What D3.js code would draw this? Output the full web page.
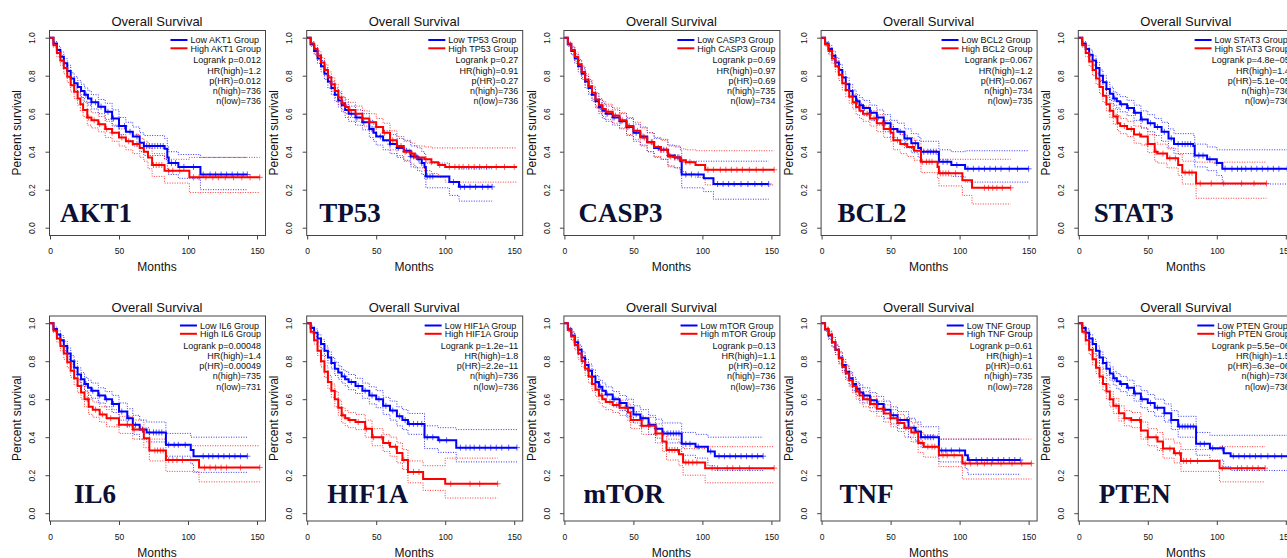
<!DOCTYPE html>
<meta charset="utf-8">
<head>
<style>
  body { margin: 0; background: #fff; }
  text { font-family: "Liberation Sans", Arial, sans-serif; fill: #111; }
</style>
</head>

<script src="https://cdn.jsdelivr.net/npm/d3@7"></script>

<body>
  <div id="my_dataviz"></div>
</body>

<script>

  // ---- data: [months, survival, lower CI, upper CI] ----
  var genes = ["AKT1", "TP53", "CASP3", "BCL2", "STAT3", "IL6", "HIF1A", "mTOR", "TNF", "PTEN"];

  var akt1Low = [[0,1,1,1],[2.5,.97,.96,.98],[5,.935,.915,.955],[7.5,.90,.875,.925],[10,.865,.84,.89],[12.5,.825,.795,.855],[15,.785,.755,.815],[17.5,.76,.73,.795],[20,.74,.71,.775],[22.5,.72,.685,.755],[25,.70,.665,.735],[27.5,.68,.645,.72],[30,.66,.625,.70],[35,.637,.60,.675],[40,.61,.57,.655],[45,.575,.535,.62],[50,.535,.49,.58],[55,.505,.46,.555],[60,.48,.43,.53],[65,.447,.40,.50],[68,.43,.38,.485],[83,.415,.36,.47],[85,.37,.31,.43],[86,.34,.28,.40],[93,.32,.26,.385],[109,.28,.20,.37],[143,.28,.20,.37]];
  var akt1High = [[0,1,1,1],[2.5,.96,.95,.97],[5,.92,.90,.94],[7.5,.88,.855,.905],[10,.84,.81,.87],[12.5,.795,.765,.825],[15,.75,.715,.785],[17.5,.715,.68,.75],[20,.68,.645,.715],[22,.65,.615,.69],[24,.62,.585,.66],[27,.58,.54,.62],[30,.565,.525,.605],[35,.545,.505,.585],[40,.52,.475,.56],[45,.50,.455,.54],[50,.475,.43,.52],[55,.455,.41,.505],[60,.44,.39,.49],[65,.42,.37,.47],[68,.40,.35,.455],[71,.37,.31,.42],[74,.33,.27,.39],[83,.30,.235,.36],[101,.265,.185,.37],[152,.265,.185,.37]];

  var tp53Low = [[0,1,1,1],[2.5,.965,.955,.975],[5,.93,.91,.95],[7.5,.89,.865,.915],[10,.85,.82,.88],[12.5,.81,.78,.84],[15,.77,.735,.80],[17.5,.735,.70,.77],[20,.70,.665,.735],[22.5,.67,.635,.71],[25,.645,.61,.685],[27.5,.62,.58,.66],[30,.60,.56,.64],[35,.58,.54,.62],[40,.555,.515,.60],[45,.52,.475,.565],[48,.50,.455,.545],[50,.48,.435,.53],[55,.46,.41,.51],[60,.44,.39,.49],[65,.42,.37,.47],[70,.405,.355,.46],[75,.375,.32,.43],[80,.36,.30,.42],[83,.34,.28,.40],[85,.32,.26,.385],[86,.27,.21,.34],[103,.24,.17,.32],[110,.215,.14,.31],[134,.215,.14,.31]];
  var tp53High = [[0,1,1,1],[2.5,.97,.96,.98],[5,.94,.92,.96],[7.5,.905,.88,.93],[10,.87,.845,.895],[12.5,.83,.80,.86],[15,.79,.76,.82],[17.5,.755,.72,.79],[20,.72,.685,.755],[22.5,.685,.65,.72],[25,.655,.62,.69],[27.5,.635,.60,.675],[30,.62,.58,.66],[35,.60,.56,.64],[40,.575,.535,.615],[45,.555,.51,.60],[50,.53,.485,.575],[55,.50,.455,.55],[60,.46,.41,.51],[65,.43,.38,.48],[70,.40,.35,.455],[75,.39,.335,.445],[78,.37,.315,.43],[85,.36,.30,.425],[90,.345,.285,.42],[95,.33,.265,.42],[100,.32,.24,.42],[152,.32,.24,.42]];

  var casp3Low = [[0,1,1,1],[2.5,.965,.955,.975],[5,.93,.91,.95],[7.5,.89,.865,.915],[10,.85,.82,.88],[12.5,.81,.78,.84],[15,.77,.735,.80],[17.5,.735,.70,.77],[20,.70,.665,.735],[22.5,.665,.63,.705],[25,.635,.60,.675],[27.5,.615,.575,.655],[30,.60,.56,.64],[35,.58,.54,.62],[40,.56,.52,.60],[45,.53,.485,.575],[50,.50,.455,.545],[55,.48,.435,.53],[60,.45,.40,.50],[65,.42,.37,.47],[70,.41,.36,.465],[75,.38,.325,.435],[80,.37,.315,.43],[84,.35,.29,.41],[85,.28,.21,.35],[101,.26,.19,.35],[108,.23,.15,.35],[148,.23,.15,.35]];
  var casp3High = [[0,1,1,1],[2.5,.968,.958,.978],[5,.935,.915,.955],[7.5,.90,.875,.925],[10,.86,.835,.885],[12.5,.82,.79,.85],[15,.78,.75,.81],[17.5,.745,.71,.78],[20,.71,.675,.745],[22.5,.675,.64,.71],[25,.645,.61,.68],[27.5,.625,.585,.665],[30,.61,.57,.65],[35,.59,.55,.63],[40,.565,.525,.605],[45,.535,.49,.58],[50,.51,.465,.555],[55,.475,.43,.525],[60,.45,.40,.50],[65,.425,.375,.475],[70,.41,.36,.46],[75,.375,.32,.43],[80,.37,.315,.425],[84,.355,.295,.415],[88,.345,.285,.41],[95,.33,.265,.405],[102,.305,.225,.405],[152,.305,.225,.405]];

  var bcl2Low = [[0,1,1,1],[2.5,.97,.96,.98],[5,.94,.92,.96],[7.5,.905,.88,.93],[10,.87,.845,.895],[12.5,.83,.80,.86],[15,.79,.76,.82],[17.5,.755,.72,.79],[20,.72,.685,.755],[22.5,.69,.655,.725],[25,.665,.63,.70],[27.5,.645,.61,.685],[30,.63,.59,.67],[35,.605,.565,.645],[40,.58,.54,.62],[45,.55,.505,.595],[50,.52,.475,.565],[55,.505,.46,.55],[60,.47,.42,.52],[65,.445,.395,.495],[70,.42,.37,.475],[72,.40,.345,.455],[85,.347,.29,.41],[94,.33,.27,.40],[104,.31,.24,.405],[150,.31,.24,.405]];
  var bcl2High = [[0,1,1,1],[2.5,.965,.955,.975],[5,.93,.91,.95],[7.5,.89,.865,.915],[10,.85,.82,.88],[12.5,.805,.775,.835],[15,.76,.725,.795],[17.5,.725,.69,.76],[20,.69,.655,.725],[22.5,.66,.625,.70],[25,.635,.595,.675],[27.5,.615,.575,.655],[30,.60,.56,.64],[35,.575,.535,.615],[40,.55,.505,.595],[45,.52,.475,.565],[50,.50,.455,.545],[52,.46,.41,.51],[57,.44,.39,.49],[62,.425,.375,.475],[67,.405,.355,.46],[72,.347,.29,.405],[84,.32,.26,.385],[85,.286,.22,.36],[102,.25,.17,.36],[109,.21,.125,.36],[137,.21,.125,.36]];

  var stat3Low = [[0,1,1,1],[2.5,.97,.96,.98],[5,.94,.92,.96],[7.5,.91,.885,.935],[10,.88,.855,.905],[12.5,.84,.81,.87],[15,.80,.77,.83],[17.5,.765,.73,.80],[20,.73,.695,.765],[22.5,.705,.67,.74],[25,.68,.645,.715],[27.5,.665,.63,.70],[30,.65,.61,.69],[35,.63,.59,.67],[40,.605,.565,.645],[45,.57,.525,.615],[50,.55,.505,.595],[55,.53,.485,.575],[60,.505,.455,.555],[65,.47,.42,.52],[69,.44,.39,.495],[83,.43,.375,.485],[84,.38,.32,.44],[93,.36,.30,.425],[100,.34,.275,.41],[104,.31,.23,.41],[151,.31,.23,.41]];
  var stat3High = [[0,1,1,1],[2.5,.96,.95,.97],[5,.92,.90,.94],[7.5,.875,.85,.90],[10,.83,.80,.86],[12.5,.785,.755,.815],[15,.74,.705,.775],[17.5,.695,.66,.73],[20,.65,.615,.685],[22.5,.615,.58,.655],[25,.585,.545,.625],[28,.55,.51,.59],[30,.535,.495,.575],[35,.52,.48,.56],[40,.49,.445,.535],[45,.48,.435,.525],[50,.44,.395,.49],[55,.40,.35,.45],[57,.39,.34,.44],[64,.365,.315,.415],[72,.33,.275,.385],[75,.29,.23,.35],[85,.233,.155,.345],[136,.233,.155,.345]];

  var il6Low = [[0,1,1,1],[2.5,.97,.96,.98],[5,.94,.92,.96],[7.5,.91,.885,.935],[10,.88,.855,.905],[12.5,.84,.81,.87],[15,.80,.77,.83],[17.5,.765,.73,.80],[20,.73,.695,.765],[22.5,.705,.67,.74],[25,.68,.645,.715],[27.5,.66,.62,.70],[30,.645,.605,.685],[35,.62,.58,.66],[40,.60,.56,.64],[45,.575,.53,.62],[50,.535,.49,.58],[56,.50,.455,.55],[60,.465,.415,.515],[65,.44,.39,.49],[70,.425,.375,.48],[83,.425,.37,.48],[84,.36,.30,.42],[102,.333,.26,.40],[104,.30,.215,.40],[143,.30,.215,.40]];
  var il6High = [[0,1,1,1],[2.5,.96,.95,.97],[5,.92,.90,.94],[7.5,.88,.855,.905],[10,.84,.81,.87],[12.5,.795,.765,.825],[15,.75,.715,.785],[17.5,.71,.675,.745],[20,.67,.635,.705],[22.5,.635,.60,.675],[25,.60,.56,.64],[28,.56,.52,.60],[31,.545,.505,.585],[36,.52,.48,.56],[41,.50,.455,.545],[50,.465,.42,.51],[60,.44,.39,.49],[68,.395,.345,.45],[72,.33,.275,.39],[84,.28,.22,.355],[108,.24,.165,.355],[152,.24,.165,.355]];

  var hif1aLow = [[0,1,1,1],[2.5,.975,.965,.985],[5,.95,.93,.97],[7.5,.92,.90,.94],[10,.89,.865,.915],[12.5,.855,.83,.88],[15,.82,.79,.85],[17.5,.79,.76,.82],[20,.76,.725,.795],[22.5,.74,.705,.775],[25,.72,.685,.755],[27.5,.705,.67,.745],[30,.69,.65,.73],[35,.67,.63,.71],[40,.645,.605,.685],[45,.62,.575,.665],[50,.60,.555,.645],[55,.565,.52,.61],[60,.54,.49,.59],[65,.51,.46,.56],[69,.49,.44,.545],[73,.47,.415,.525],[85,.40,.34,.46],[95,.384,.32,.45],[108,.345,.27,.44],[152,.345,.27,.44]];
  var hif1aHigh = [[0,1,1,1],[2.5,.955,.945,.965],[5,.91,.89,.93],[7.5,.855,.83,.88],[10,.80,.77,.83],[12.5,.745,.715,.775],[15,.69,.655,.725],[17.5,.645,.61,.68],[20,.60,.56,.64],[22.5,.555,.515,.595],[25,.515,.475,.555],[27.5,.50,.46,.54],[30,.49,.45,.53],[35,.48,.44,.52],[42,.445,.40,.49],[47,.40,.355,.445],[55,.37,.325,.415],[60,.35,.30,.40],[65,.317,.265,.37],[69,.28,.23,.335],[73,.217,.16,.275],[84,.18,.12,.25],[100,.155,.08,.29],[138,.155,.08,.29]];

  var mtorLow = [[0,1,1,1],[2.5,.968,.958,.978],[5,.935,.915,.955],[7.5,.90,.875,.925],[10,.86,.835,.885],[12.5,.82,.79,.85],[15,.78,.75,.81],[17.5,.75,.715,.785],[20,.72,.685,.755],[22.5,.69,.655,.725],[25,.665,.63,.70],[27.5,.645,.605,.685],[30,.625,.585,.665],[35,.60,.56,.64],[40,.58,.54,.62],[45,.555,.51,.60],[50,.52,.475,.565],[55,.50,.455,.545],[61,.465,.415,.515],[66,.445,.395,.495],[71,.42,.37,.475],[85,.365,.305,.425],[95,.35,.29,.415],[104,.325,.25,.40],[109,.30,.225,.40],[144,.30,.225,.40]];
  var mtorHigh = [[0,1,1,1],[2.5,.965,.955,.975],[5,.93,.91,.95],[7.5,.885,.86,.91],[10,.84,.81,.87],[12.5,.80,.77,.83],[15,.76,.725,.795],[17.5,.72,.685,.755],[20,.68,.645,.715],[22.5,.65,.615,.685],[25,.62,.58,.66],[27.5,.60,.56,.64],[30,.585,.545,.625],[35,.57,.53,.61],[40,.555,.515,.595],[46,.53,.485,.575],[48,.49,.445,.535],[56,.46,.415,.505],[66,.42,.37,.47],[71,.377,.325,.43],[74,.333,.28,.39],[83,.31,.25,.37],[86,.267,.20,.34],[102,.237,.16,.35],[152,.237,.16,.35]];

  var tnfLow = [[0,1,1,1],[2.5,.968,.958,.978],[5,.935,.915,.955],[7.5,.90,.875,.925],[10,.86,.835,.885],[12.5,.82,.79,.85],[15,.78,.75,.81],[17.5,.745,.71,.78],[20,.71,.675,.745],[22.5,.68,.645,.715],[25,.655,.62,.69],[27.5,.635,.595,.675],[30,.62,.58,.66],[35,.595,.555,.635],[40,.575,.535,.615],[45,.545,.50,.59],[50,.515,.47,.56],[55,.49,.445,.535],[63,.45,.40,.50],[68,.43,.38,.48],[72,.40,.345,.455],[85,.33,.27,.39],[104,.305,.235,.39],[106,.28,.205,.39],[144,.28,.205,.39]];
  var tnfHigh = [[0,1,1,1],[2.5,.97,.96,.98],[5,.94,.92,.96],[7.5,.90,.875,.925],[10,.86,.835,.885],[12.5,.815,.785,.845],[15,.77,.74,.80],[17.5,.735,.70,.77],[20,.70,.665,.735],[22.5,.67,.635,.705],[25,.64,.60,.68],[27.5,.62,.58,.66],[30,.60,.56,.64],[35,.575,.535,.615],[40,.55,.51,.59],[45,.525,.48,.57],[50,.50,.455,.545],[55,.475,.43,.52],[60,.45,.40,.50],[65,.425,.375,.475],[70,.37,.32,.425],[74,.35,.295,.41],[85,.305,.245,.39],[102,.262,.18,.39],[152,.262,.18,.39]];

  var ptenLow = [[0,1,1,1],[2.5,.975,.965,.985],[5,.95,.93,.97],[7.5,.92,.90,.94],[10,.89,.865,.915],[12.5,.855,.83,.88],[15,.82,.79,.85],[17.5,.79,.76,.82],[20,.76,.725,.795],[22.5,.735,.70,.77],[25,.71,.675,.745],[27.5,.695,.655,.735],[30,.68,.64,.72],[35,.66,.62,.70],[40,.63,.59,.67],[45,.60,.555,.645],[50,.58,.535,.625],[55,.555,.51,.60],[62,.526,.48,.575],[67,.49,.44,.54],[72,.456,.40,.51],[85,.365,.305,.425],[95,.342,.28,.41],[105,.316,.245,.41],[110,.30,.225,.41],[152,.30,.225,.41]];
  var ptenHigh = [[0,1,1,1],[2.5,.955,.945,.965],[5,.91,.89,.93],[7.5,.86,.835,.885],[10,.81,.78,.84],[12.5,.765,.735,.795],[15,.72,.685,.755],[17.5,.68,.645,.715],[20,.64,.60,.68],[22.5,.60,.56,.64],[25,.565,.525,.605],[29,.526,.485,.565],[33,.50,.46,.54],[38,.49,.45,.53],[45,.435,.39,.48],[50,.40,.355,.445],[57,.377,.33,.425],[61,.34,.29,.39],[69,.316,.265,.37],[74,.275,.22,.335],[102,.237,.165,.35],[135,.237,.165,.35]];

  // censoring times (months)
  var akt1LowCens = [26,30,33,37,42,46,50,54,58,63,70,72,74,76,78,80,82,88,91,97,104,111,116,120,124,128,132,136,140,143];
  var akt1HighCens = [28,32,36,41,45,52,57,63,75,77,79,81,86,89,94,104,108,113,118,122,127,133,139,145,152];
  var tp53LowCens = [27,32,36,41,47,53,60,66,72,75,77,79,81,83,87,89,91,106,111,114,118,122,127,131,134];
  var tp53HighCens = [26,31,35,40,45,50,56,62,68,71,74,76,80,86,90,96,103,107,110,113,117,121,125,130,137,143,150];
  var casp3LowCens = [26,31,36,41,46,52,57,63,68,70,72,76,80,83,88,92,97,111,115,119,123,128,133,138,143,148];
  var casp3HighCens = [27,32,37,42,47,53,58,64,70,74,77,80,82,85,88,91,104,108,113,117,121,125,129,134,139,144,152];
  var bcl2LowCens = [26,31,36,41,46,52,57,62,68,74,77,79,81,83,88,91,98,106,110,114,118,122,126,130,136,142,150];
  var bcl2HighCens = [27,33,38,44,49,55,61,66,73,76,78,80,86,88,90,92,97,118,121,124,127,131,137];
  var stat3LowCens = [26,31,36,41,46,52,57,62,67,72,75,77,79,81,87,90,95,100,106,111,115,118,121,125,129,133,137,141,145,151];
  var stat3HighCens = [27,33,38,44,50,56,61,66,70,77,80,82,88,96,105,118,127,136];
  var il6LowCens = [26,31,36,41,46,52,57,62,67,72,75,77,79,81,86,90,93,98,111,115,118,122,126,130,134,138,143];
  var il6HighCens = [27,33,38,44,50,56,61,67,76,78,80,82,86,89,92,96,112,116,120,124,128,138,152];
  var hif1aLowCens = [27,32,37,42,47,52,57,62,67,71,74,77,80,83,87,91,96,101,111,115,118,121,125,129,133,137,141,146,152];
  var hif1aHighCens = [26,31,37,43,48,54,59,64,70,77,81,104,118,125,138];
  var mtorLowCens = [26,31,36,41,46,52,57,62,67,72,75,77,79,81,83,88,91,97,106,112,116,120,124,128,132,136,140,144];
  var mtorHighCens = [27,33,38,44,50,56,61,67,76,78,80,82,88,90,93,96,107,111,118,122,127,134,152];
  var tnfLowCens = [26,31,36,41,46,52,57,62,67,72,75,77,79,81,87,90,94,100,107,112,116,120,124,128,132,136,140,144];
  var tnfHighCens = [27,33,38,44,50,56,61,67,73,77,80,82,88,91,96,104,108,113,118,123,130,138,145,152];
  var ptenLowCens = [26,31,36,41,46,52,57,62,67,73,75,77,79,81,83,88,91,97,104,112,116,120,124,128,132,137,142,147,152];
  var ptenHighCens = [27,33,38,44,50,56,61,66,70,73,76,78,81,86,104,115,118,122,126,130,135];

  // statistics printed in each panel
  var logrankP = ["0.012", "0.27", "0.69", "0.067", "4.8e\u221205", "0.00048", "1.2e\u221211", "0.13", "0.61", "5.5e\u221206"];
  var hrHigh = ["1.2", "0.91", "0.97", "1.2", "1.4", "1.4", "1.8", "1.1", "1", "1.5"];
  var pHR = ["0.012", "0.27", "0.69", "0.067", "5.1e\u221205", "0.00049", "2.2e\u221211", "0.12", "0.61", "6.3e\u221206"];
  var nHigh = [736, 736, 735, 734, 736, 735, 736, 736, 735, 736];
  var nLow = [736, 736, 734, 735, 736, 731, 736, 736, 728, 736];

  var xTicks = [0, 50, 100, 150];
  var yTicks = [0, 0.2, 0.4, 0.6, 0.8, 1.0];

  // table for the panels
  var lowSeries = [akt1Low, tp53Low, casp3Low, bcl2Low, stat3Low, il6Low, hif1aLow, mtorLow, tnfLow, ptenLow];
  var highSeries = [akt1High, tp53High, casp3High, bcl2High, stat3High, il6High, hif1aHigh, mtorHigh, tnfHigh, ptenHigh];
  var lowCens = [akt1LowCens, tp53LowCens, casp3LowCens, bcl2LowCens, stat3LowCens, il6LowCens, hif1aLowCens, mtorLowCens, tnfLowCens, ptenLowCens];
  var highCens = [akt1HighCens, tp53HighCens, casp3HighCens, bcl2HighCens, stat3HighCens, il6HighCens, hif1aHighCens, mtorHighCens, tnfHighCens, ptenHighCens];

  // layout
  var colStep = 257.2, rowTops = [0, 285.5];
  var labelDx = [10, 12, 14, 16, 15, 24, 20, 19, 18, 20];
  var labelBase = [221.5, 217.2];
  var BLUE = "#0000ff", RED = "#ff0000";

  var svg = d3.select("#my_dataviz")
    .append("svg")
      .attr("width", 1287)
      .attr("height", 558);

  function stepValue(series, t) {
    var v = series[0][1];
    series.forEach(function(d) { if (d[0] <= t) v = d[1]; });
    return v;
  }

  genes.forEach(function(gene, i) {
    var col = i % 5, row = Math.floor(i / 5);
    var ox = col * colStep, oy = rowTops[row];

    var x = d3.scaleLinear().domain([0, 150]).range([ox + 50, ox + 257]);
    var y = d3.scaleLinear().domain([0, 1]).range([oy + 227.7, oy + 37.7]);

    var g = svg.append("g");

    // box
    g.append("rect")
      .attr("x", ox + 49.5).attr("y", oy + 30.5)
      .attr("width", 216).attr("height", 205)
      .attr("fill", "none").attr("stroke", "#444").attr("stroke-width", 1);

    // x axis
    var xa = g.append("g")
      .attr("transform", "translate(0," + (oy + 235.5) + ")")
      .call(d3.axisBottom(x).tickValues(xTicks).tickSize(4).tickPadding(8.5));
    xa.select(".domain").remove();
    xa.selectAll("line").attr("stroke", "#444");
    xa.selectAll("text").style("font-size", "8.5px").style("font-family", "Liberation Sans, Arial, sans-serif").attr("fill", "#111");

    // y axis, labels rotated like R
    var ya = g.append("g")
      .attr("transform", "translate(" + (ox + 49.5) + ",0)")
      .call(d3.axisLeft(y).tickValues(yTicks).tickSize(4).tickFormat(d3.format(".1f")));
    ya.select(".domain").remove();
    ya.selectAll("line").attr("stroke", "#444");
    ya.selectAll("text")
      .attr("transform", "rotate(-90)")
      .attr("x", 0).attr("y", -17.2).attr("dy", "0.35em")
      .style("text-anchor", "middle")
      .style("font-size", "8.5px").style("font-family", "Liberation Sans, Arial, sans-serif").attr("fill", "#111");

    // titles
    g.append("text")
      .attr("x", ox + 157).attr("y", oy + 26.4)
      .style("text-anchor", "middle").style("font-size", "13px")
      .text("Overall Survival");
    g.append("text")
      .attr("x", ox + 157).attr("y", oy + 271)
      .style("text-anchor", "middle").style("font-size", "12px")
      .text("Months");
    g.append("text")
      .attr("transform", "translate(" + (ox + 17) + "," + (oy + 132.7) + ") rotate(-90)")
      .attr("dy", "0.35em")
      .style("text-anchor", "middle").style("font-size", "12px")
      .text("Percent survival");

    // curves
    var mid = d3.line().curve(d3.curveStepAfter).x(function(d) { return x(d[0]); }).y(function(d) { return y(d[1]); });
    var lo = d3.line().curve(d3.curveStepAfter).x(function(d) { return x(d[0]); }).y(function(d) { return y(d[2]); });
    var hi = d3.line().curve(d3.curveStepAfter).x(function(d) { return x(d[0]); }).y(function(d) { return y(d[3]); });

    [[lowSeries[i], BLUE], [highSeries[i], RED]].forEach(function(s) {
      [lo, hi].forEach(function(fn) {
        g.append("path")
          .attr("d", fn(s[0]))
          .attr("fill", "none").attr("stroke", s[1])
          .attr("stroke-width", 1).attr("stroke-dasharray", "1,1.5")
          .attr("opacity", 0.8);
      });
    });

    [[lowSeries[i], BLUE, lowCens[i]], [highSeries[i], RED, highCens[i]]].forEach(function(s) {
      g.append("path")
        .attr("d", mid(s[0]))
        .attr("fill", "none").attr("stroke", s[1])
        .attr("stroke-width", 2);
      g.append("g").selectAll("path")
        .data(s[2])
        .enter()
        .append("path")
          .attr("d", function(t) {
            var cx = x(t), cy = y(stepValue(s[0], t));
            return "M" + cx + "," + (cy - 3) + "V" + (cy + 3) + "M" + (cx - 3) + "," + cy + "H" + (cx + 3);
          })
          .attr("stroke", s[1]).attr("stroke-width", 0.8).attr("opacity", 0.8);
    });

    // gene name
    g.append("text")
      .attr("x", ox + 50 + labelDx[i]).attr("y", oy + labelBase[row])
      .style("font-family", "Liberation Serif, Times New Roman, serif")
      .style("font-weight", "bold").style("font-size", "27px")
      .style("fill", "#0c1035")
      .text(gene);

    // legend
    var right = ox + 261;
    var legTexts = ["Low " + gene + " Group", "High " + gene + " Group"];
    var legY = [43.2, 51.5];
    var lt = legTexts.map(function(t, k) {
      return g.append("text")
        .attr("y", oy + legY[k])
        .style("font-size", "9px")
        .text(t);
    });
    var maxW = d3.max(lt, function(t) { return t.node().getComputedTextLength(); });
    var tx = right - maxW;
    lt.forEach(function(t, k) {
      t.attr("x", tx);
      g.append("line")
        .attr("x1", tx - 20).attr("x2", tx - 3)
        .attr("y1", oy + legY[k] - 3.2).attr("y2", oy + legY[k] - 3.2)
        .attr("stroke", k === 0 ? BLUE : RED).attr("stroke-width", 2);
    });

    var statTexts = [
      "Logrank p=" + logrankP[i],
      "HR(high)=" + hrHigh[i],
      "p(HR)=" + pHR[i],
      "n(high)=" + nHigh[i],
      "n(low)=" + nLow[i]
    ];
    var statY = [63.2, 73.5, 83.7, 93.9, 104.1];
    statTexts.forEach(function(t, k) {
      g.append("text")
        .attr("x", right).attr("y", oy + statY[k])
        .style("text-anchor", "end").style("font-size", "9px")
        .text(t);
    });
  });

</script>
